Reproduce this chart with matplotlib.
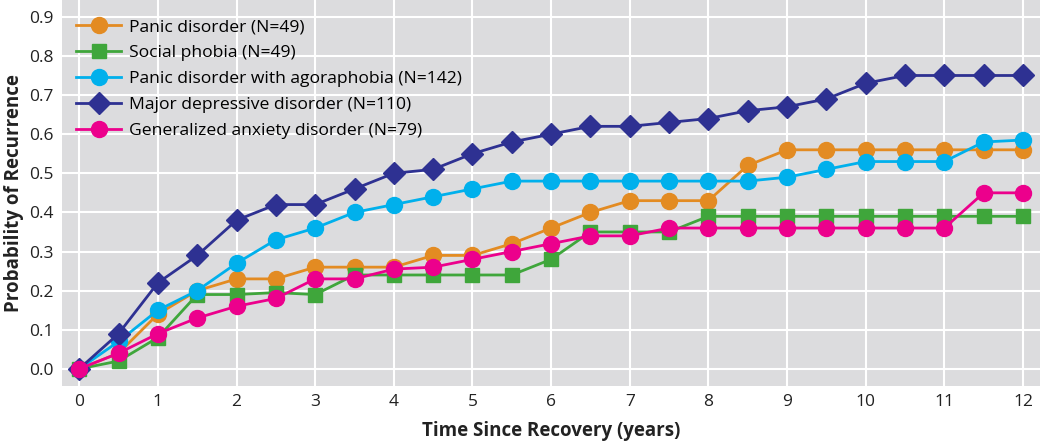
import matplotlib.pyplot as plt

plt.rcParams['font.family'] = ['Open Sans', 'DejaVu Sans']

years = [i * 0.5 for i in range(25)]

panic = [0.0, 0.04, 0.14, 0.20, 0.23, 0.23, 0.26, 0.26, 0.26, 0.29, 0.29, 0.32, 0.36,
         0.40, 0.43, 0.43, 0.43, 0.52, 0.56, 0.56, 0.56, 0.56, 0.56, 0.56, 0.56]
social = [0.0, 0.02, 0.08, 0.19, 0.19, 0.195, 0.19, 0.24, 0.24, 0.24, 0.24, 0.24, 0.28,
          0.35, 0.35, 0.35, 0.39, 0.39, 0.39, 0.39, 0.39, 0.39, 0.39, 0.39, 0.39]
agora = [0.0, 0.07, 0.15, 0.20, 0.27, 0.33, 0.36, 0.40, 0.42, 0.44, 0.46, 0.48, 0.48,
         0.48, 0.48, 0.48, 0.48, 0.48, 0.49, 0.51, 0.53, 0.53, 0.53, 0.58, 0.585]
mdd = [0.0, 0.09, 0.22, 0.29, 0.38, 0.42, 0.42, 0.46, 0.50, 0.51, 0.55, 0.58, 0.60,
       0.62, 0.62, 0.63, 0.64, 0.66, 0.67, 0.69, 0.73, 0.75, 0.75, 0.75, 0.75]
gad = [0.0, 0.04, 0.09, 0.13, 0.16, 0.18, 0.23, 0.23, 0.255, 0.26, 0.28, 0.30, 0.32,
       0.34, 0.34, 0.36, 0.36, 0.36, 0.36, 0.36, 0.36, 0.36, 0.36, 0.45, 0.45]

labels = ['Panic disorder (N=49)', 'Social phobia (N=49)',
          'Panic disorder with agoraphobia (N=142)', 'Major depressive disorder (N=110)',
          'Generalized anxiety disorder (N=79)']

fig = plt.figure(figsize=(10.5, 4.41), dpi=100)
ax = fig.add_axes([0.059, 0.125, 0.931, 0.875])
ax.set_facecolor('#dcdcde')

# series drawn in the same order as the legend
ax.plot(years, panic, color='#e38b22', marker='o', ms=11.5, lw=2, label=labels[0])
ax.plot(years, social, color='#3fa63b', marker='s', ms=10.5, lw=2, label=labels[1])
ax.plot(years, agora, color='#00b0ec', marker='o', ms=11.5, lw=2, label=labels[2])
ax.plot(years, mdd, color='#2e3192', marker='D', ms=11, lw=2, label=labels[3])
ax.plot(years, gad, color='#ec008c', marker='o', ms=11.5, lw=2, label=labels[4])

ax.set_xlim(-0.22, 12.21)
ax.set_ylim(-0.0435, 0.943)
ax.set_xticks(range(13))
ax.set_yticks([i / 10 for i in range(10)])
ax.set_yticklabels(['%.1f' % (i / 10) for i in range(10)])
ax.grid(True, color='white', lw=1.5)
ax.set_axisbelow(True)
for s in ax.spines.values():
    s.set_visible(False)
ax.tick_params(length=0, labelsize=12.5, colors='#222222', pad=6)

ax.set_xlabel('Time Since Recovery (years)', fontsize=13.5, fontweight='bold', color='#222222', labelpad=8)
ax.set_ylabel('Probability of Recurrence', fontsize=13.5, fontweight='bold', color='#222222', labelpad=4)

ax.legend(loc='upper left', bbox_to_anchor=(0.0, 0.987), frameon=False, fontsize=12.6,
          handlelength=2.6, labelspacing=0.56, borderaxespad=0.4, handletextpad=0.45)

fig.savefig('out.png', dpi=100)
